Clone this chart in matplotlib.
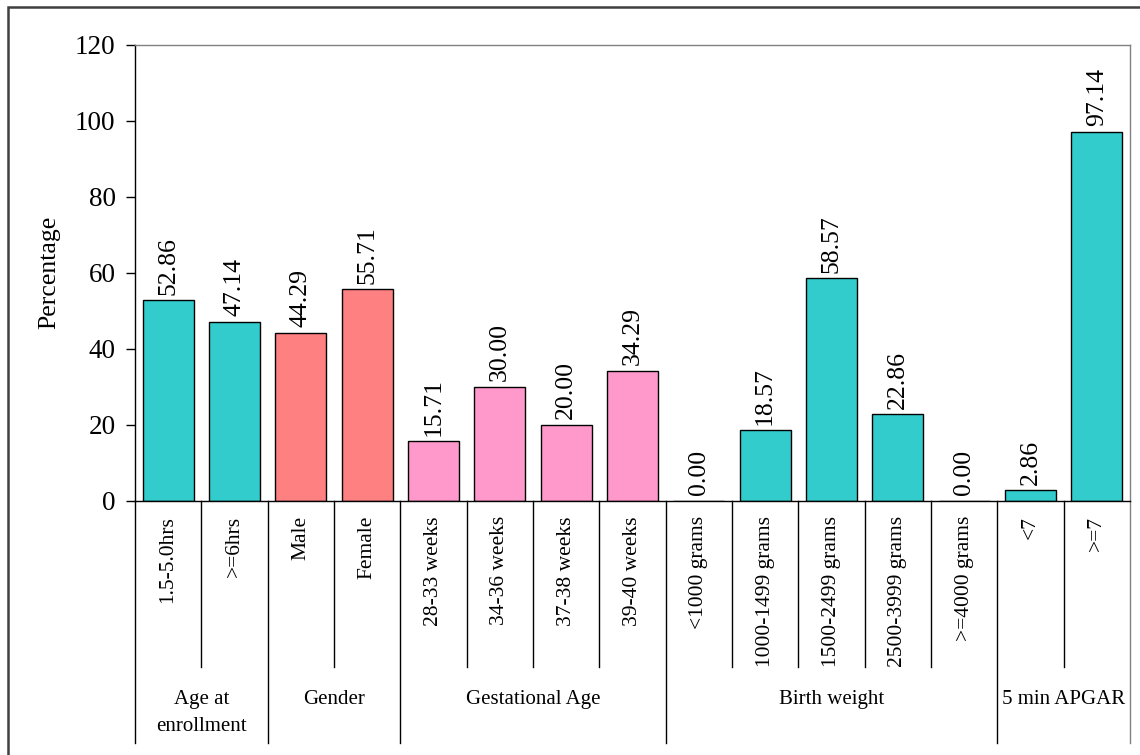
import matplotlib
matplotlib.use("Agg")
import matplotlib.pyplot as plt
from matplotlib.patches import Rectangle
from matplotlib.lines import Line2D

plt.rcParams['font.family'] = ['Liberation Serif', 'DejaVu Serif']

# Data
categories = ["1.5-5.0hrs", ">=6hrs", "Male", "Female",
              "28-33 weeks", "34-36 weeks", "37-38 weeks", "39-40 weeks",
              "<1000 grams", "1000-1499 grams", "1500-2499 grams",
              "2500-3999 grams", ">=4000 grams", "<7", ">=7"]
values = [52.86, 47.14, 44.29, 55.71,
          15.71, 30.00, 20.00, 34.29,
          0.00, 18.57, 58.57, 22.86, 0.00,
          2.86, 97.14]
groups = ["Age at\nenrollment", "Gender", "Gestational Age", "Birth weight", "5 min APGAR"]
group_sizes = [2, 2, 4, 5, 2]
group_colors = ["#33CCCC", "#FF8080", "#FF99CC", "#33CCCC", "#33CCCC"]
yticks = [0, 20, 40, 60, 80, 100, 120]

W, H = 1140, 755
fig = plt.figure(figsize=(W / 100, H / 100), dpi=100)

# plot area in pixels
L, R, T, B = 135, 1130, 45, 501
ax = fig.add_axes([L / W, 1 - B / H, (R - L) / W, (B - T) / H])

bar_colors = []
for c, n in zip(group_colors, group_sizes):
    bar_colors += [c] * n

x = list(range(len(categories)))
ax.bar(x, values, width=0.77, color=bar_colors, edgecolor="black", linewidth=1.0)

for xi, v in zip(x, values):
    ax.annotate(f"{v:.2f}", (xi, v), xytext=(0, 4), textcoords="offset points",
                rotation=90, ha="center", va="bottom", fontsize=18.5)

ax.set_xlim(-0.5, len(categories) - 0.5)
ax.set_ylim(0, 120)
ax.set_yticks(yticks)
ax.set_yticklabels([str(t) for t in yticks], fontsize=19.5)
ax.tick_params(axis="y", direction="out", length=6.5, width=1, pad=7.5, color="black")
ax.set_xticks([])

for s in ["left", "bottom"]:
    ax.spines[s].set_color("black")
    ax.spines[s].set_linewidth(1.0)
for s in ["top", "right"]:
    ax.spines[s].set_color("#808080")
    ax.spines[s].set_linewidth(1.0)

fig.text(49 / W, 1 - 272 / H, "Percentage", rotation=90, ha="center", va="center",
         fontsize=18.5)

# category labels and separators below the axis
trans = ax.get_xaxis_transform()
ph = B - T
def ay(py):
    return (B - py) / ph

for xi, lab in zip(x, categories):
    ax.text(xi, ay(516), lab, transform=trans, rotation=90, ha="center", va="top",
            fontsize=15.5)

bounds = [-0.5]
for n in group_sizes:
    bounds.append(bounds[-1] + n)
group_edges = set(bounds)
for i in range(len(categories) + 1):
    bx = i - 0.5
    if bx in group_edges:
        y_end = ay(743)
    else:
        y_end = ay(667)
    col = "#808080" if i == len(categories) else "black"
    ax.add_line(Line2D([bx, bx], [0, y_end], transform=trans, color=col,
                       linewidth=1.0, clip_on=False))

for g, a, b in zip(groups, bounds[:-1], bounds[1:]):
    ax.text((a + b) / 2, ay(690), g, transform=trans, ha="center", va="top",
            fontsize=15, linespacing=1.6)

# outer frame
fig.patches.append(Rectangle((8 / W, -0.01), 1.0, 1 - 7 / H + 0.01,
                             transform=fig.transFigure, fill=False,
                             edgecolor="#404040", linewidth=1.8))

fig.savefig("out.png", dpi=100)
